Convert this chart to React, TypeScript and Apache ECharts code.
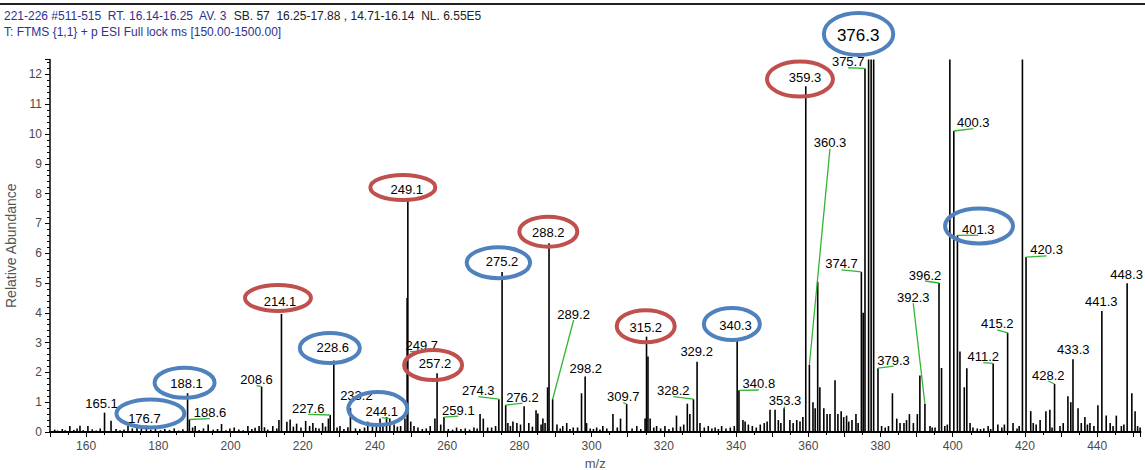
import React, { useEffect, useRef } from "react";
import * as echarts from "echarts";

// ---- spectrum data (m/z, relative abundance) ----
const peakMz = [
  155.5, 158.3, 160.5, 165.1, 166.9, 171.6, 174.1, 176.7, 188.1, 188.6, 190.2, 193.8, 197.5, 201.0, 204.8, 207.9,
  208.6, 211.7, 213.4, 214.1, 215.6, 216.5, 218.3, 220.8, 222.8, 225.5, 227.1, 227.6, 228.6, 230.3, 233.2, 238.0,
  241.4, 242.2, 243.2, 244.1, 247.1, 248.3, 248.9, 249.1, 249.9, 256.6, 257.2, 259.1, 262.6, 269.1, 270.0, 272.3,
  274.3, 275.2, 276.2, 276.8, 278.2, 279.3, 281.3, 282.6, 284.6, 285.1, 286.5, 287.8, 288.2, 289.2, 292.0, 293.1,
  294.9, 297.2, 298.2, 298.6, 301.4, 303.1, 305.9, 308.0, 309.7, 312.5, 314.8, 315.2, 315.6, 316.2, 318.0, 320.3,
  323.5, 326.5, 327.2, 328.2, 329.2, 330.0, 332.3, 334.2, 336.0, 340.3, 340.8, 342.5, 349.4, 350.8, 351.7, 353.3,
  354.9, 356.8, 358.5, 359.3, 360.3, 361.3, 362.6, 363.2, 364.3, 366.0, 367.4, 368.2, 370.6, 372.1, 373.2, 374.7,
  375.2, 375.7, 376.7, 377.4, 378.1, 379.3, 380.3, 383.3, 384.5, 385.4, 388.0, 389.1, 390.9, 392.3, 393.7, 395.1,
  396.2, 396.9, 399.2, 400.3, 401.3, 402.0, 403.2, 403.9, 409.8, 411.2, 412.5, 415.2, 416.7, 419.3, 420.3, 421.6,
  422.3, 424.2, 425.8, 426.9, 428.2, 429.7, 431.9, 432.7, 433.3, 434.7, 436.6, 438.0, 440.2, 441.3, 442.5, 445.3,
  446.7, 448.3, 449.6, 450.5, 451.9,
];
const peakAbund = [
  0.2, 0.21, 0.2, 0.65, 0.38, 0.2, 0.25, 0.22, 1.3, 0.42, 0.2, 0.25, 0.27, 0.15, 0.2, 0.2,
  1.52, 0.2, 0.4, 3.96, 0.34, 0.42, 0.28, 0.37, 0.3, 0.3, 0.45, 0.57, 2.4, 0.2, 0.8, 0.35,
  0.45, 0.3, 0.5, 0.45, 0.2, 0.45, 4.5, 7.8, 0.35, 0.45, 1.97, 0.5, 0.15, 0.6, 0.45, 0.15,
  1.1, 5.37, 0.9, 0.3, 0.35, 0.3, 0.86, 0.3, 0.73, 0.62, 0.45, 1.5, 6.33, 1.1, 0.2, 0.3,
  0.15, 1.3, 1.86, 0.3, 0.15, 0.2, 0.6, 0.45, 0.94, 0.2, 0.45, 3.2, 2.53, 0.45, 0.2, 0.2,
  0.55, 0.95, 0.6, 1.1, 2.36, 0.3, 0.2, 0.15, 0.2, 3.09, 1.4, 0.35, 0.75, 0.75, 0.4, 0.8,
  0.4, 0.4, 0.5, 11.6, 2.25, 1.0, 5.04, 1.5, 0.8, 0.6, 1.74, 0.6, 0.55, 0.4, 0.6, 5.37,
  4.0, 12.2, 100, 62, 48, 2.14, 0.2, 1.3, 0.45, 0.3, 0.6, 0.3, 1.9, 0.94, 0.2, 0.15,
  5.0, 2.15, 40, 10.1, 6.6, 2.7, 1.5, 2.14, 0.2, 2.3, 0.25, 3.33, 0.3, 30, 5.87, 0.7,
  0.3, 0.4, 0.7, 0.75, 1.61, 0.2, 1.2, 1.0, 2.44, 0.8, 0.5, 0.3, 0.9, 4.06, 0.55, 0.55,
  0.2, 4.99, 1.3, 0.7, 0.15,
];

// low baseline peaks
const noiseMz = [
  151.3, 152.1, 153.4, 154.2, 156.6, 157.5, 159.2, 161.7, 162.8, 163.9, 168.3, 169.4, 170.5, 172.8, 175.3, 177.9,
  179.2, 180.6, 181.8, 183.1, 184.4, 185.6, 186.8, 189.5, 191.3, 192.5, 195.2, 196.4, 198.7, 199.8, 202.3, 203.5,
  205.9, 206.8, 209.4, 210.3, 212.8, 217.4, 219.5, 221.9, 223.6, 224.5, 226.3, 229.5, 231.4, 232.5, 234.6, 235.8,
  237.1, 239.3, 240.4, 245.3, 246.2, 250.8, 251.9, 253.1, 254.2, 255.3, 258.2, 260.3, 261.5, 263.8, 265.0, 266.2,
  267.4, 268.3, 271.2, 273.4, 277.5, 280.3, 283.6, 286.0, 287.1, 290.4, 291.3, 294.0, 296.1, 299.6, 300.5, 302.3,
  304.2, 307.1, 311.2, 313.6, 317.2, 319.1, 321.4, 322.5, 324.6, 325.5, 331.2, 333.3, 335.1, 337.2, 338.4, 339.5,
  341.9, 343.4, 344.5, 345.6, 346.7, 347.8, 348.6, 352.4, 355.8, 357.7, 361.9, 365.2, 369.1, 369.8, 371.2, 373.8,
  381.3, 382.2, 386.5, 387.2, 390.2, 394.3, 397.8, 398.5, 404.8, 405.6, 406.8, 407.7, 408.6, 410.5, 413.6, 414.3,
  417.8, 418.4, 423.1, 427.5, 430.6, 435.6, 437.3, 439.1, 443.6, 444.4, 447.4, 451.2,
];
const noiseAbund = [
  0.08, 0.05, 0.1, 0.06, 0.07, 0.12, 0.06, 0.09, 0.05, 0.12, 0.1, 0.06, 0.08, 0.12, 0.1, 0.08,
  0.14, 0.06, 0.1, 0.07, 0.12, 0.05, 0.09, 0.15, 0.07, 0.12, 0.08, 0.1, 0.06, 0.12, 0.08, 0.06,
  0.1, 0.14, 0.16, 0.08, 0.12, 0.18, 0.15, 0.2, 0.14, 0.12, 0.18, 0.15, 0.1, 0.16, 0.12, 0.1,
  0.15, 0.18, 0.22, 0.25, 0.18, 0.2, 0.15, 0.1, 0.12, 0.2, 0.25, 0.1, 0.08, 0.1, 0.12, 0.08,
  0.15, 0.12, 0.15, 0.2, 0.2, 0.25, 0.18, 0.25, 0.3, 0.25, 0.12, 0.1, 0.15, 0.12, 0.1, 0.08,
  0.12, 0.15, 0.12, 0.1, 0.15, 0.12, 0.1, 0.15, 0.18, 0.25, 0.15, 0.12, 0.1, 0.12, 0.15, 0.2,
  0.4, 0.25, 0.2, 0.15, 0.25, 0.3, 0.35, 0.3, 0.3, 0.35, 0.8, 0.6, 0.7, 0.5, 0.35, 0.3,
  0.15, 0.2, 0.3, 0.4, 0.6, 0.15, 0.2, 0.25, 0.3, 0.15, 0.12, 0.1, 0.12, 0.1, 0.15, 0.25,
  0.12, 0.2, 0.25, 0.15, 0.3, 0.3, 0.25, 0.2, 0.3, 0.2, 0.25, 0.2,
];

// ---- annotated peaks ----
const annMz = [
  165.1, 176.7, 188.1, 188.6, 208.6, 214.1, 227.6, 228.6, 233.2, 244.1, 249.1, 249.7, 257.2, 259.1, 274.3, 275.2,
  276.2, 288.2, 289.2, 298.2, 309.7, 315.2, 328.2, 329.2, 340.3, 340.8, 353.3, 359.3, 360.3, 374.7, 375.7, 376.3,
  379.3, 392.3, 396.2, 400.3, 401.3, 411.2, 415.2, 420.3, 428.2, 433.3, 441.3, 448.3,
];
const annAbund = [
  0.65, 0.22, 1.3, 0.42, 1.52, 3.96, 0.57, 2.4, 0.8, 0.45, 7.8, 2.7, 1.97, 0.5, 1.1, 5.37,
  0.9, 6.33, 1.1, 1.86, 0.94, 3.2, 1.1, 2.36, 3.09, 1.4, 0.8, 11.6, 2.25, 5.37, 12.2, 100,
  2.14, 0.94, 5.0, 10.1, 6.6, 2.3, 3.33, 5.87, 1.61, 2.44, 4.06, 4.99,
];
const annLabel = annMz.map((m) => m.toFixed(1));
// ring colour: r = red circle, b = blue circle, "" = none
const annRing = [
  "", "b", "b", "", "", "r", "", "b", "", "b", "r", "", "r", "", "", "b",
  "", "r", "", "", "", "r", "", "", "b", "", "", "r", "", "", "", "b",
  "", "", "", "", "b", "", "", "", "", "", "", "",
];
const annLeader = [
  0, 0, 0, 1, 1, 0, 1, 0, 0, 1, 0, 1, 0, 1, 1, 0,
  1, 0, 1, 0, 1, 0, 1, 0, 0, 1, 1, 0, 1, 1, 1, 0,
  1, 1, 1, 1, 1, 1, 1, 1, 1, 0, 0, 0,
];

// ---- layout (pixel offsets of label centre from peak top; ellipse radii) ----
const labelOffset = [
  [-3, -9], [-2, -7], [-1, -9.5], [20.6, -6.8], [-5, -7], [-1.5, -12.3], [-22, -6.7], [-1, -12.5],
  [6, -13], [-8, -7], [-1, -9.6], [11.7, -6.5], [-2, -9.3], [14.4, -7], [-20.5, -8.5], [0, -10.3],
  [16.7, -8], [-0.7, -10.7], [21, -85.2], [0.6, -7.6], [-3.4, -7.3], [-0.8, -9], [-20.2, -8.5], [-0.4, -10],
  [-1.6, -14.9], [19.9, -6.3], [0.9, -7.5], [-0.8, -9], [20.6, -222.3], [-19.8, -8], [-16.8, -6.7], [-9, -24.5],
  [15.6, -8.2], [-11.7, -106.7], [-14, -8], [19.5, -8.3], [20.9, -6], [-9.9, -6.8], [-10.3, -8.8], [20.6, -7.1],
  [-6.3, -9], [0.3, -10], [-0.6, -9.3], [-0.5, -8.3],
];
const ringShape: Record<number, number[]> = {
  1: [6, -5, 34, 14],
  2: [-2, -1, 30, 15],
  5: [-2, -3.7, 33, 13],
  7: [-3, 0, 30, 15],
  9: [-4, -3, 29.5, 16.5],
  10: [-4, -2.5, 32.5, 12.5],
  12: [-2, 1, 29, 15],
  15: [-3.7, 1, 31.7, 15.5],
  17: [0, -1, 29, 15],
  21: [0, -1.5, 29, 16],
  24: [-3.7, -1, 28, 16],
  27: [-5, 1.7, 33, 17.5],
  31: [0.4, -1, 34.7, 21],
  36: [0.7, -3.3, 34, 17.5],
};

const Y_MAX = 12.5;
const FONT = "'Liberation Sans', Arial, sans-serif";

export default function App() {
  const ref = useRef<HTMLDivElement>(null);
  useEffect(() => {
    if (!ref.current) return;
    const chart = echarts.init(ref.current, undefined, { renderer: "svg" });
    const bars = peakMz.map((m, i) => [m, peakAbund[i]]).concat(noiseMz.map((m, i) => [m, noiseAbund[i]]));
    const ann = annMz.map((m, i) => [m, annAbund[i]]);
    chart.setOption({
      animation: false,
      backgroundColor: "#fff",
      textStyle: { fontFamily: FONT },
      grid: { left: 50, right: 4.5, top: 59.5, bottom: 38, containLabel: false, outerBoundsMode: "none" },
      xAxis: {
        type: "value",
        min: 150,
        max: 452,
        interval: 10,
        name: "m/z",
        nameLocation: "middle",
        nameGap: 24,
        nameTextStyle: { fontSize: 13, color: "#555", fontFamily: FONT },
        axisLine: { show: true, onZero: false, lineStyle: { color: "#000", width: 2 } },
        axisTick: { show: true, length: 5, lineStyle: { color: "#000", width: 1 } },
        minorTick: { show: true, splitNumber: 2, length: 3, lineStyle: { color: "#000", width: 1 } },
        splitLine: { show: false },
        axisLabel: {
          margin: 8,
          fontSize: 12,
          color: "#4a4a4a",
          fontFamily: FONT,
          showMaxLabel: false,
          formatter: (v: number) => (Math.round(v) % 20 === 0 ? String(Math.round(v)) : ""),
        },
      },
      yAxis: {
        type: "value",
        min: 0,
        max: Y_MAX,
        interval: 1,
        name: "Relative Abundance",
        nameLocation: "middle",
        nameGap: 26,
        nameTextStyle: { fontSize: 14, color: "#555", fontFamily: FONT },
        axisLine: { show: true, lineStyle: { color: "#000", width: 1.5 } },
        axisTick: { show: true, length: 5, lineStyle: { color: "#000", width: 1 } },
        minorTick: { show: true, splitNumber: 5, length: 3, lineStyle: { color: "#000", width: 1 } },
        splitLine: { show: false },
        axisLabel: {
          margin: 8,
          fontSize: 12,
          color: "#4a4a4a",
          fontFamily: FONT,
          formatter: (v: number) => (Number.isInteger(v) ? String(v) : ""),
        },
      },
      graphic: [
        { type: "line", shape: { x1: 0, y1: 4, x2: 1145, y2: 4 }, style: { stroke: "#222", lineWidth: 2 } },
        {
          type: "text",
          left: 4,
          top: 10,
          style: {
            text: "{b|221-226 #511-515  RT. 16.14-16.25  AV. 3  }{k|SB. 57  16.25-17.88 , 14.71-16.14  NL. 6.55E5}",
            rich: {
              b: { fill: "#2e3192", fontSize: 12, fontFamily: FONT },
              k: { fill: "#222", fontSize: 12, fontFamily: FONT },
            },
          },
        },
        {
          type: "text",
          left: 4,
          top: 26,
          style: { text: "T: FTMS {1,1} + p ESI Full lock ms [150.00-1500.00]", fill: "#2e3192", fontSize: 12, fontFamily: FONT },
        },
      ],
      series: [
        {
          type: "bar",
          data: bars,
          barWidth: 1.6,
          itemStyle: { color: "#000" },
          clip: true,
          silent: true,
        },
        {
          type: "custom",
          data: ann,
          clip: false,
          z: 10,
          silent: true,
          renderItem: (params: any, api: any) => {
            const i = params.dataIndex;
            const mz = api.value(0);
            const h = Math.min(api.value(1), Y_MAX);
            const p = api.coord([mz, h]);
            const off = labelOffset[i];
            const cx = p[0] + off[0];
            const cy = p[1] + off[1];
            const children: any[] = [];
            if (annLeader[i]) {
              children.push({
                type: "line",
                shape: { x1: cx, y1: cy + 6, x2: p[0], y2: p[1] },
                style: { stroke: "#33b533", lineWidth: 1.3 },
              });
            }
            const rs = ringShape[i];
            if (annRing[i] && rs) {
              children.push({
                type: "ellipse",
                shape: { cx: cx + rs[0], cy: cy + rs[1], rx: rs[2], ry: rs[3] },
                style: { fill: "none", stroke: annRing[i] === "r" ? "#c0504d" : "#4f81bd", lineWidth: 4 },
              });
            }
            const big = i === 31;
            children.push({
              type: "text",
              style: {
                text: annLabel[i],
                x: cx,
                y: cy,
                align: "center",
                verticalAlign: "middle",
                fontSize: big ? 17 : 13,
                fontFamily: FONT,
                fill: "#000",
              },
            });
            return { type: "group", children };
          },
        },
      ],
    });
    return () => chart.dispose();
  }, []);
  return <div ref={ref} style={{ position: "fixed", left: 0, top: 0, width: 1145, height: 470 }} />;
}
